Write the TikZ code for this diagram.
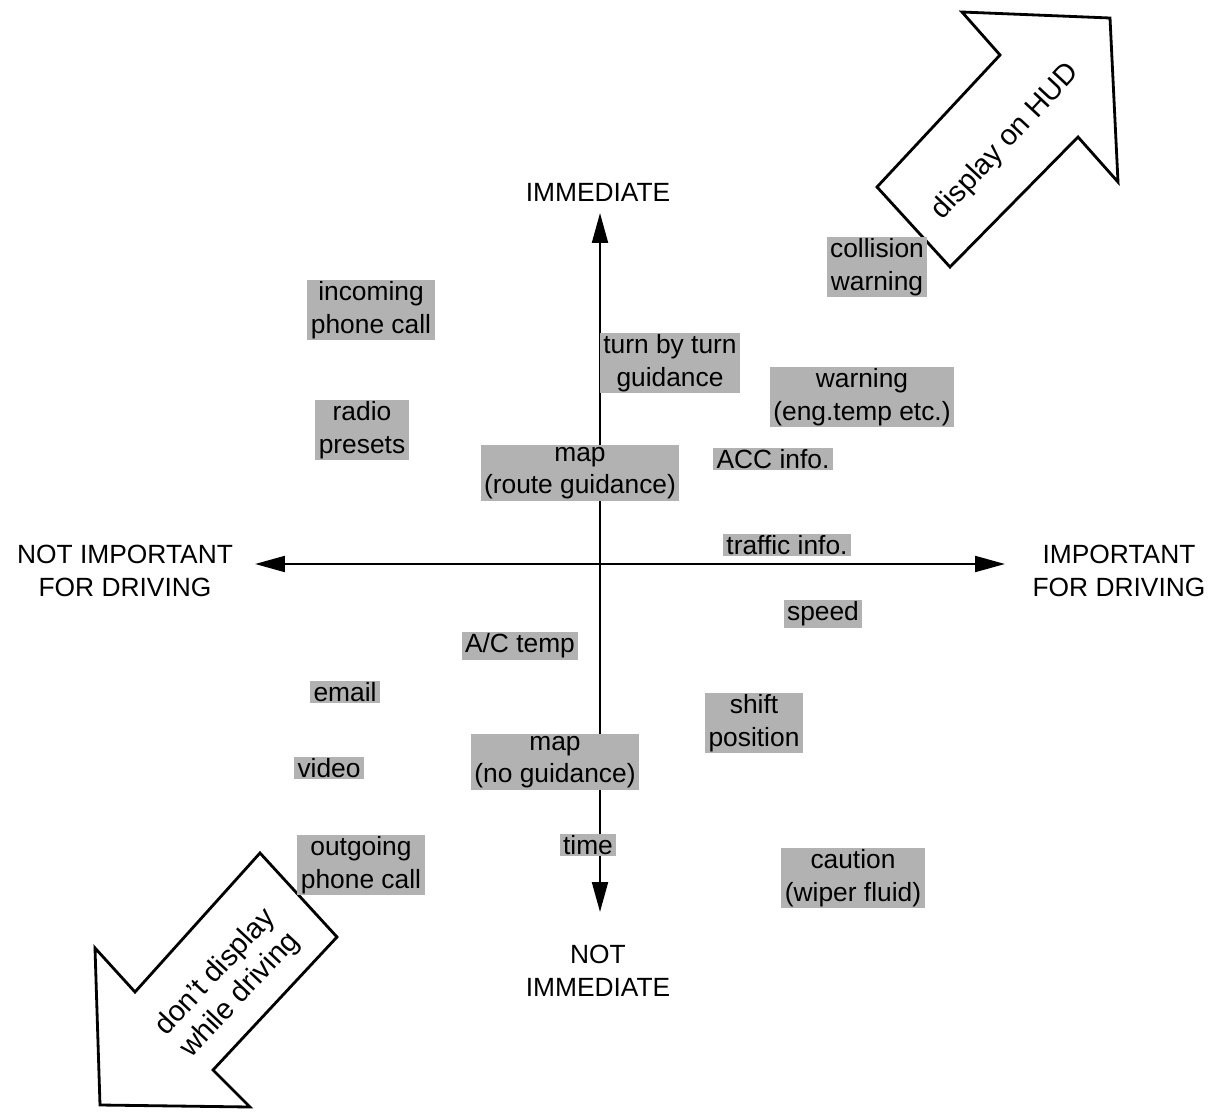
\documentclass[tikz,border=0pt]{standalone}
\usepackage{fontspec}
\setmainfont{Liberation Sans}
\usetikzlibrary{arrows.meta}

\begin{document}
\begin{tikzpicture}[x=0.02cm, y=-0.02cm,
	every node/.style={font=\fontsize{15}{18.5}\selectfont, align=center},
	item/.style={fill=black!30, inner xsep=2pt, inner ysep=1pt},
	axis/.style={line width=1.4pt, {Triangle[length=17pt,width=9pt]}-{Triangle[length=17pt,width=9pt]}},
	bigarrow/.style={line width=1.6pt, line join=miter, fill=white},
	arrowtext/.style={rotate=47, font=\fontsize{16.5}{19}\selectfont}]
	
	\useasboundingbox (0,0) rectangle (1221,1112);
	
	% Axis end points
	\coordinate (top) at (600,213);
	\coordinate (bottom) at (600,912);
	\coordinate (left) at (255,564);
	\coordinate (right) at (1005,564);
	
	% Draw axes
	\draw[axis] (left) -- (right);
	\draw[axis] (bottom) -- (top);
	
	% Axis labels
	\node (immediate) at (598,192) {IMMEDIATE};
	\node (notimmediate) at (598,971) {NOT\\IMMEDIATE};
	\node (notimportant) at (125,571) {NOT IMPORTANT\\FOR DRIVING};
	\node (important) at (1119,571) {IMPORTANT\\FOR DRIVING};
	
	% Big arrows
	\draw[bigarrow] (962,12) -- (1110,18) -- (1118,182) -- (1078,137) -- (950,267) -- (877,187) -- (1000,55) -- cycle;
	\node[arrowtext] (hud) at (1006,142) {display on HUD};
	\draw[bigarrow] (260,853) -- (337,937) -- (213,1070) -- (250,1107) -- (100,1105) -- (95,948) -- (135,992) -- cycle;
	\node[arrowtext] (nodisplay) at (228,984) {don't display\\while driving};
	
	% Information items
	\node[item] (collision) at (877,267) {collision\\warning};
	\node[item] (incoming) at (371,310) {incoming\\phone call};
	\node[item] (turn) at (670,363) {turn by turn\\guidance};
	\node[item] (warning) at (862,397) {warning\\(eng.temp etc.)};
	\node[item] (radio) at (362,430) {radio\\presets};
	\node[item] (maproute) at (580,473) {map\\(route guidance)};
	\node[item] (acc) at (773,459) {ACC info.};
	\node[item] (traffic) at (787,545) {traffic info.};
	\node[item] (speed) at (823,614) {speed};
	\node[item] (actemp) at (520,646) {A/C temp};
	\node[item] (email) at (345,692) {email};
	\node[item] (shift) at (754,723) {shift\\position};
	\node[item] (mapnone) at (555,762) {map\\(no guidance)};
	\node[item] (video) at (329,768) {video};
	\node[item] (time) at (588,845) {time};
	\node[item] (outgoing) at (361,865) {outgoing\\phone call};
	\node[item] (caution) at (853,878) {caution\\(wiper fluid)};
	
\end{tikzpicture}
\end{document}
